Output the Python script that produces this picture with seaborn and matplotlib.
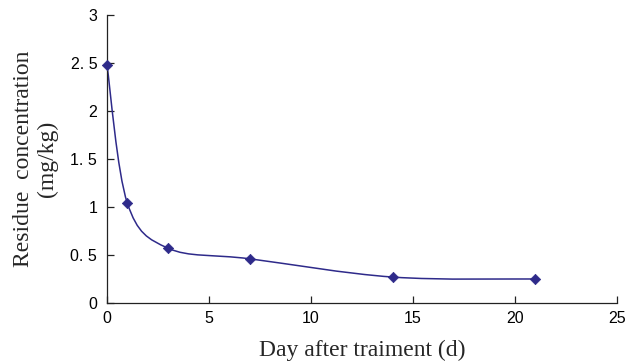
import numpy as np
import pandas as pd
import matplotlib
matplotlib.use("Agg")
import matplotlib.pyplot as plt
import seaborn as sns
from matplotlib.path import Path
from matplotlib.patches import PathPatch

days = [0, 1, 3, 7, 14, 21]
residue = [2.48, 1.04, 0.57, 0.46, 0.27, 0.25]
x_ticks = [0, 5, 10, 15, 20, 25]
y_ticks = [0, 0.5, 1, 1.5, 2, 2.5, 3]
y_tick_labels = ["0", "0. 5", "1", "1. 5", "2", "2. 5", "3"]

color = "#2E2A8A"

sns.set_theme(style="ticks")
plt.rcParams["font.family"] = ["Liberation Sans", "DejaVu Sans"]

fig = plt.figure(figsize=(6.29, 3.62), dpi=100)
ax = fig.add_axes([0.170, 0.163, 0.811, 0.796])

df = pd.DataFrame({"day": days, "residue": residue})

# smoothed (Excel-style Bezier) curve through the data points
pts = np.column_stack([days, residue]).astype(float)
n = len(pts)
verts = [tuple(pts[0])]
codes = [Path.MOVETO]
for i in range(n - 1):
    p0 = pts[max(i - 1, 0)]
    p1 = pts[i]
    p2 = pts[i + 1]
    p3 = pts[min(i + 2, n - 1)]
    c1 = p1 + (p2 - p0) / 6.0
    c2 = p2 - (p3 - p1) / 6.0
    verts += [tuple(c1), tuple(c2), tuple(p2)]
    codes += [Path.CURVE4] * 3
ax.add_patch(PathPatch(Path(verts, codes), facecolor="none", edgecolor=color,
                       lw=1.1, zorder=2))

sns.scatterplot(data=df, x="day", y="residue", ax=ax, marker="D", s=28,
                color=color, edgecolor=color, linewidth=0.5, zorder=3,
                clip_on=False)

ax.set_xlim(0, 25)
ax.set_ylim(0, 3)
ax.set_xticks(x_ticks)
ax.set_yticks(y_ticks)
ax.set_yticklabels(y_tick_labels)
ax.tick_params(direction="in", length=5, width=0.9, colors="#222222",
               labelsize=11.5, labelcolor="black")
ax.tick_params(axis="y", pad=7)
ax.tick_params(axis="x", pad=6)
for s in ["top", "right"]:
    ax.spines[s].set_visible(False)
for s in ["left", "bottom"]:
    ax.spines[s].set_linewidth(0.9)
    ax.spines[s].set_color("#222222")

ax.set_xlabel("Day after traiment (d)", family=["Liberation Serif"], fontsize=17,
              labelpad=10)
ax.set_ylabel("Residue  concentration\n(mg/kg)", family=["Liberation Serif"],
              fontsize=17, labelpad=9, linespacing=1.2)

fig.savefig("out.png", dpi=100)
